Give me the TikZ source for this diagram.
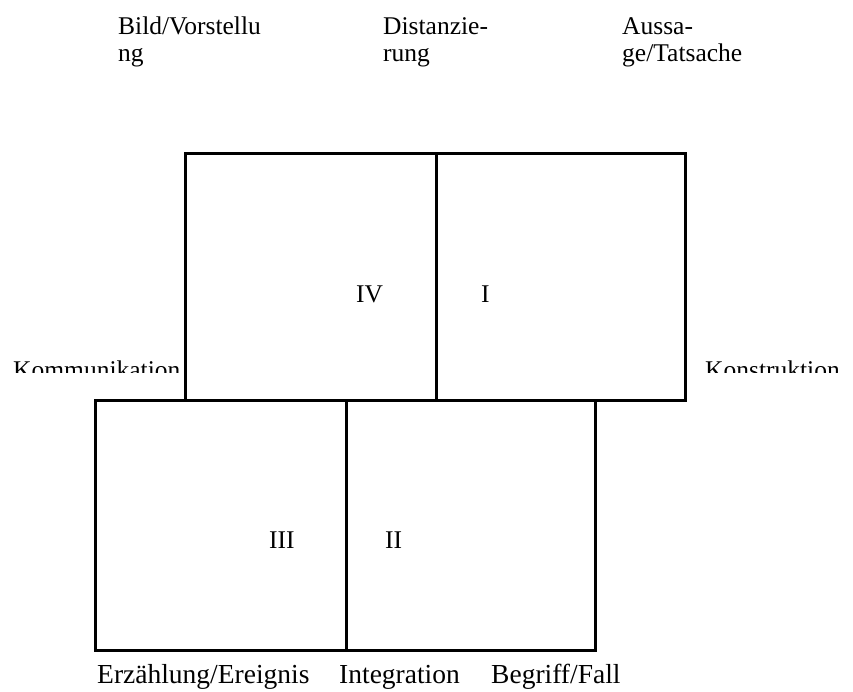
\documentclass[tikz,border=0pt]{standalone}
\usepackage{fontspec}
\setmainfont{Liberation Serif}
\begin{document}
\begin{tikzpicture}[x=1pt,y=-1pt,
    cell/.style={draw=black, line width=3pt, inner sep=0pt, outer sep=0pt, anchor=north west},
    txt/.style={inner sep=0pt, anchor=base west, font=\fontsize{25.5}{27}\selectfont, align=left},
    big/.style={txt, font=\fontsize{27.5}{29}\selectfont}]
  \useasboundingbox (0,0) rectangle (853,691);
  % upper row
  \node[cell, minimum width=251pt, minimum height=247pt] (cIV) at (185,153) {};
  \node[cell, minimum width=249pt, minimum height=247pt] (cI) at (436,153) {};
  % lower row
  \node[cell, minimum width=251pt, minimum height=250pt] (cIII) at (95,400) {};
  \node[cell, minimum width=249pt, minimum height=250pt] (cII) at (346,400) {};
  % quadrant numbers
  \node[txt] (nIV) at (356,302) {IV};
  \node[txt] (nI) at (481,302) {I};
  \node[txt] (nIII) at (269,548) {III};
  \node[txt] (nII) at (385,548) {II};
  % top labels (anchored on second line)
  \node[txt] (bild) at (118,61) {Bild/Vorstellu\\ng};
  \node[txt] (dist) at (383,61) {Distanzie-\\rung};
  \node[txt] (auss) at (622,61) {Aussa-\\ge/Tatsache};
  % side labels (cut off below)
  \begin{scope}
    \clip (0,340) rectangle (853,372);
    \node[txt] (komm) at (13,378) {Kommunikation};
    \node[txt] (konst) at (705,378) {Konstruktion};
  \end{scope}
  % bottom labels
  \node[big] (erz) at (97,683) {Erzählung/Ereignis};
  \node[big] (integ) at (339,683) {Integration};
  \node[big] (begr) at (491,683) {Begriff/Fall};
\end{tikzpicture}
\end{document}
